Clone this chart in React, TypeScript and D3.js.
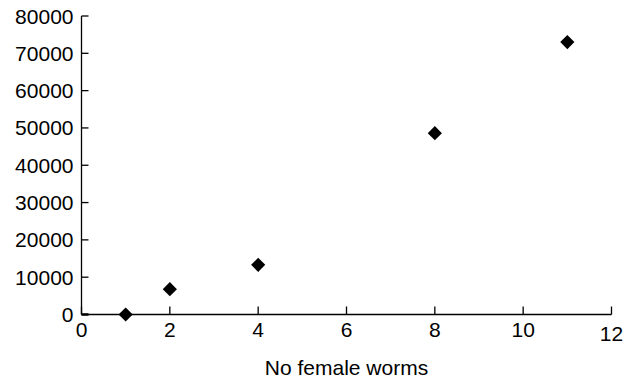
import React from "react";
import * as d3 from "d3";

const femaleWorms = [1, 2, 4, 8, 11];
const eggCounts = [0, 6800, 13300, 48600, 73000];
const xTicks = [0, 2, 4, 6, 8, 10, 12];
const yTicks = [0, 10000, 20000, 30000, 40000, 50000, 60000, 70000, 80000];
const xLabel = "No female worms";

export default function App() {
  const W = 633, H = 380;
  const x = d3.scaleLinear().domain([0, 12]).range([81.5, 611.5]);
  const y = d3.scaleLinear().domain([0, 80000]).range([314.5, 16]);
  const font = "Arial, 'Liberation Sans', sans-serif";
  const diamond = d3.symbol().type(d3.symbolDiamond2).size(128)();
  return (
    <svg width={W} height={H} style={{ position: "absolute", left: 0, top: 0, background: "#fff" }}
      fontFamily={font}>
      <line x1={x(0)} x2={x(0)} y1={y(80000)} y2={y(0)} stroke="#000" strokeWidth={1.3} />
      <line x1={x(0)} x2={x(12)} y1={y(0)} y2={y(0)} stroke="#000" strokeWidth={1.3} />
      {yTicks.map((t) => (
        <g key={"y" + t}>
          <line x1={x(0)} x2={x(0) + 7} y1={y(t)} y2={y(t)} stroke="#000" strokeWidth={t === 0 ? 2.5 : 1.3} />
          <text x={73.5} y={y(t)} dy="0.36em" textAnchor="end" fontSize={21} fill="#000">{t}</text>
        </g>
      ))}
      {xTicks.map((t) => (
        <g key={"x" + t}>
          <line x1={x(t)} x2={x(t)} y1={y(0)} y2={y(0) - 8} stroke="#000" strokeWidth={1.3} />
          <text x={x(t)} y={t === 12 ? 340.5 : 337.3} textAnchor="middle" fontSize={21} fill="#000">{t}</text>
        </g>
      ))}
      <text x={(x(0) + x(12)) / 2} y={375} textAnchor="middle" fontSize={21} fill="#000">{xLabel}</text>
      {femaleWorms.map((v, i) => (
        <path key={i} d={diamond} transform={`translate(${x(v)},${y(eggCounts[i])})`} fill="#000" />
      ))}
    </svg>
  );
}
